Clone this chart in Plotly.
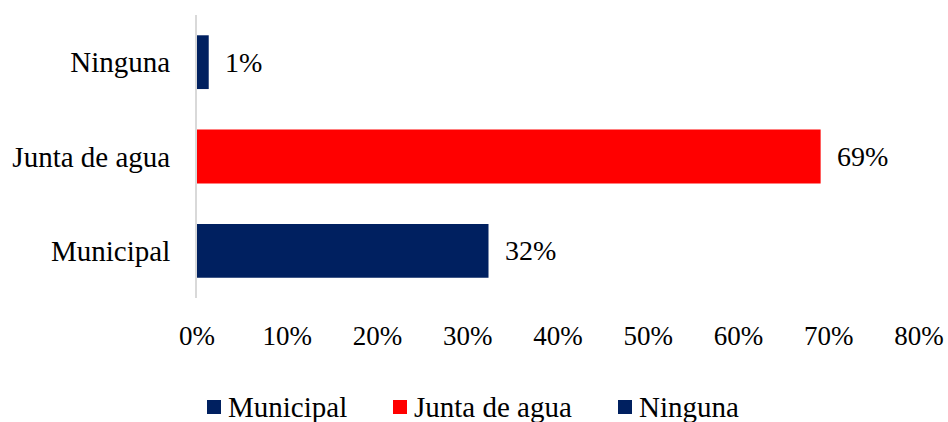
import plotly.graph_objects as go

categories = ["Municipal", "Junta de agua", "Ninguna"]
values = [0.323, 0.691, 0.013]
colors = ["#002060", "#FF0000", "#002060"]
x_ticks = [0, 0.1, 0.2, 0.3, 0.4, 0.5, 0.6, 0.7, 0.8]
x_tick_labels = ["0%", "10%", "20%", "30%", "40%", "50%", "60%", "70%", "80%"]

FONT = "Liberation Serif, Times New Roman, serif"
W, H = 948, 422
L, R, T, B = 197, 29, 15, 124
PW, PH = W - L - R, H - T - B


def px_x(px):
    return (px - L) / PW


def px_y(py):
    return (H - B - py) / PH


fig = go.Figure()
for cat, val, col in zip(categories, values, colors):
    fig.add_trace(go.Bar(
        y=[cat], x=[val], orientation="h", name=cat,
        marker=dict(color=col, line=dict(width=0)),
        width=0.57, showlegend=False,
    ))
    fig.add_annotation(
        x=val, y=cat, xref="x", yref="y", text=f"{round(val*100)}%",
        showarrow=False, xanchor="left", yanchor="middle", xshift=14,
        font=dict(family=FONT, size=28, color="black"),
    )

# custom legend (square swatch + label), below the plot
legend_x = [207, 393, 618]
for cat, col, lx in zip(categories, colors, legend_x):
    fig.add_shape(
        type="rect", xref="paper", yref="paper",
        x0=px_x(lx), x1=px_x(lx + 14), y0=px_y(414), y1=px_y(400),
        fillcolor=col, line=dict(width=0),
    )
    fig.add_annotation(
        x=px_x(lx + 19), y=px_y(407), xref="paper", yref="paper",
        text=cat, showarrow=False, xanchor="left", yanchor="middle",
        font=dict(family=FONT, size=29, color="black"),
    )

fig.update_layout(
    width=W, height=H,
    margin=dict(l=L, r=R, t=T, b=B),
    paper_bgcolor="white", plot_bgcolor="white",
    barmode="overlay", showlegend=False,
    font=dict(family=FONT, size=28, color="black"),
    xaxis=dict(
        range=[0, 0.8], tickvals=x_ticks, ticktext=x_tick_labels,
        showgrid=False, zeroline=False, showline=False,
        ticks="", ticklabelstandoff=19, automargin=False,
        tickfont=dict(family=FONT, size=27, color="black"),
    ),
    yaxis=dict(
        categoryorder="array", categoryarray=categories,
        range=[-0.5, 2.5],
        showgrid=False, zeroline=False,
        showline=True, linecolor="#d9d9d9", linewidth=2,
        ticks="", ticklabelstandoff=19, automargin=False,
        tickfont=dict(family=FONT, size=29, color="black"),
    ),
)

fig.write_html(
    "out.html",
    config={"displayModeBar": False},
    post_script="document.body.style.margin='0';document.body.style.overflow='hidden';",
)
